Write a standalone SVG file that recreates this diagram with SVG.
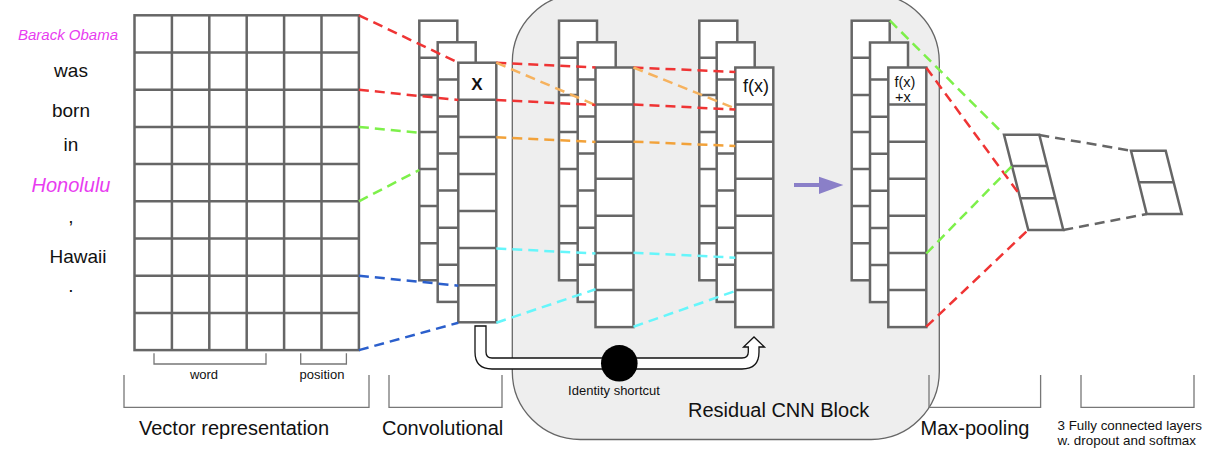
<svg xmlns="http://www.w3.org/2000/svg" width="1214" height="472" viewBox="0 0 1214 472">
<style>
text{font-family:"Liberation Sans",Arial,sans-serif;fill:#111}
.cell{fill:#fff;stroke:#666;stroke-width:2.5}
.ln{stroke:#666;stroke-width:2.5}
.brk{fill:none;stroke:#777;stroke-width:1.3}
.d{fill:none;stroke-width:2.5;stroke-dasharray:10 6}
.red{stroke:#ef3434}.grn{stroke:#7df04a}.blu{stroke:#2b5fcc}.org{stroke:#f2a23a}.org2{stroke:#f6b25e}.cyn{stroke:#66f6fb}.gry{stroke:#666}
.mag{fill:#e83cf0;font-style:italic}
.w{font-size:19px;text-anchor:middle}
</style>
<defs>
<g id="col">
<rect class="cell" x="0" y="0" width="38" height="259.6"/>
<path class="ln" d="M0 37.1H38M0 74.2H38M0 111.3H38M0 148.3H38M0 185.4H38M0 222.5H38"/>
</g>
</defs>

<g id="residual-block-bg">
<rect x="512.3" y="-6" width="427" height="445.5" rx="68" ry="68" fill="#eeeeee" stroke="#666" stroke-width="1.3"/>
</g>

<g id="words">
<text class="mag" x="68" y="40" font-size="15" text-anchor="middle">Barack Obama</text>
<text class="w" x="71" y="77">was</text>
<text class="w" x="71" y="117">born</text>
<text class="w" x="71" y="151">in</text>
<text class="w mag" x="71" y="192" style="font-size:20px">Honolulu</text>
<text class="w" x="71" y="223">,</text>
<text class="w" x="78" y="263">Hawaii</text>
<text class="w" x="71" y="292">.</text>
</g>

<g id="vector-grid">
<rect class="cell" x="134.5" y="15.3" width="224.4" height="334.8"/>
<path class="ln" d="M171.9 15.3V350.1M209.3 15.3V350.1M246.7 15.3V350.1M284.1 15.3V350.1M321.5 15.3V350.1M134.5 52.5H358.9M134.5 89.7H358.9M134.5 126.9H358.9M134.5 164.1H358.9M134.5 201.3H358.9M134.5 238.5H358.9M134.5 275.7H358.9M134.5 312.9H358.9"/>
</g>

<g id="conv-layer">
<use href="#col" x="419.3" y="20.7"/>
<use href="#col" x="437.7" y="42.3"/>
<use href="#col" x="458.3" y="62.7"/>
<text x="477" y="90" font-size="17" font-weight="bold" text-anchor="middle">X</text>
</g>

<g id="res-layer-1">
<use href="#col" x="559" y="20.7"/>
<use href="#col" x="577.7" y="42.3"/>
<use href="#col" x="595.5" y="67.5"/>
</g>

<g id="res-layer-2">
<use href="#col" x="699.3" y="20.7"/>
<use href="#col" x="716.7" y="42.3"/>
<use href="#col" x="735.3" y="67.5"/>
<text x="756" y="91.5" font-size="18" text-anchor="middle">f(x)</text>
</g>

<g id="res-output">
<use href="#col" x="851.7" y="20.7"/>
<use href="#col" x="870" y="42.5"/>
<use href="#col" x="888.3" y="67.5"/>
<text x="894.5" y="86.5" font-size="14.5">f(x)</text>
<text x="895" y="101.5" font-size="14.5">+x</text>
</g>

<g id="max-pooling">
<polygon class="cell" points="1004,134.7 1039.3,134.7 1063.3,230 1028.3,230"/>
<path class="ln" d="M1012 166H1047.2M1020.2 198.3H1055.3"/>
</g>

<g id="fully-connected">
<polygon class="cell" points="1131,150.7 1165.7,150.7 1181.7,214 1146.7,214"/>
<path class="ln" d="M1138.8 182.3H1173.7"/>
</g>

<g id="connectors">
<path class="d red" d="M358.9 15.3L458.3 62.7"/>
<path class="d red" d="M358.9 89.7L458.3 100"/>
<path class="d grn" d="M358.9 126.9L419.3 132.7"/>
<path class="d grn" d="M358.9 201.3L419.3 170"/>
<path class="d blu" d="M358.9 275.7L458.3 285.7"/>
<path class="d blu" d="M358.9 350.1L458.3 322.7"/>

<path class="d red" d="M496.3 62.7L595.5 67.5"/>
<path class="d org2" d="M496.3 62.7L595.5 105"/>
<path class="d red" d="M496.3 100L595.5 105"/>
<path class="d org" d="M496.3 137.3L595.5 142"/>
<path class="d cyn" d="M496.3 248.5L595.5 253.5"/>
<path class="d cyn" d="M496.3 322.7L595.5 289.3"/>

<path class="d red" d="M633.5 67.5L735.3 72"/>
<path class="d org2" d="M633.5 67.5L735.3 108.5"/>
<path class="d red" d="M633.5 104.5L735.3 109.5"/>
<path class="d org" d="M633.5 141.7L735.3 146"/>
<path class="d cyn" d="M633.5 252.7L735.3 257.7"/>
<path class="d cyn" d="M633.5 326.7L735.3 291"/>

<path class="d grn" d="M890 20.7L1003 133.5"/>
<path class="d red" d="M926.3 67.7L1018.5 193"/>
<path class="d grn" d="M926.3 253.5L1012 166"/>
<path class="d red" d="M926.3 326.7L1027 231"/>

<path class="d gry" d="M1039.3 135L1131 150.7"/>
<path class="d gry" d="M1063.3 230L1146.7 214"/>

<g id="block-arrow">
<path d="M794 185H821" stroke="#8a7fc8" stroke-width="4"/>
<polygon points="819,176.7 843.3,185 819,194" fill="#8a7fc8"/>
</g>
</g>

<g id="identity-shortcut">
<path d="M475 326V352Q475 369 492 369H742Q759 369 759 352V347H764.5L754 337L743.5 347H748.3V352Q748.3 358 742 358H492Q486 358 486 352V326Z" fill="#fff" stroke="#111" stroke-width="1.3"/>
<circle cx="619.3" cy="363.3" r="18.3" fill="#000"/>
<text x="614" y="395" font-size="13" text-anchor="middle">Identity shortcut</text>
</g>

<g id="labels">
<path class="brk" d="M154 353.3V364H266V353.3M300.7 353.3V364H346.4V353.3"/>
<text x="204" y="378.5" font-size="13" text-anchor="middle">word</text>
<text x="322" y="378.5" font-size="13" text-anchor="middle">position</text>
<path class="brk" d="M124 375V407.3H369V375M389 375V407.3H502V375M929 375V407.3H1040.6V375M1081 375V407.3H1194V375"/>
<text x="139" y="435" font-size="20">Vector representation</text>
<text x="382" y="435" font-size="20">Convolutional</text>
<text x="688" y="417.3" font-size="20">Residual CNN Block</text>
<text x="920.5" y="434.5" font-size="20">Max-pooling</text>
<text x="1057.5" y="429.5" font-size="13.4">3 Fully connected layers</text>
<text x="1057.5" y="444.5" font-size="13.4">w. dropout and softmax</text>
</g>
</svg>
